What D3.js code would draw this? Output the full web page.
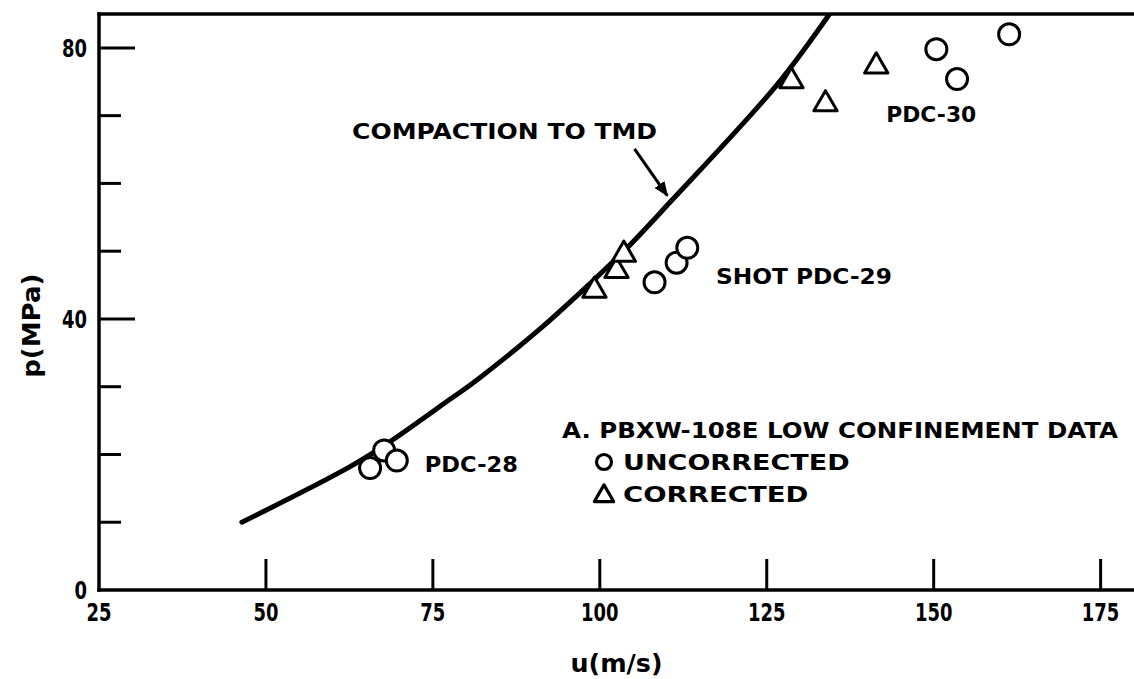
<!DOCTYPE html>
<html>
<head>
<meta charset="utf-8">
<script src="https://cdn.jsdelivr.net/npm/d3@7"></script>
<style>
  html, body { margin: 0; padding: 0; background: #fff; }
  svg { display: block; }
  text { font-family: "DejaVu Sans", "Liberation Sans", Arial, sans-serif; font-weight: bold; fill: #000; }
</style>
</head>
<body>
<div id="chart"></div>
<script>
'use strict';

// Compaction to TMD curve: [u (m/s), p (MPa)]
var curvePoints = [
    [46.4, 10.0], [62.6, 18.2], [68.6, 21.9], [77.5, 28.1], [81.6, 31.0],
    [91.0, 38.5], [98.5, 45.2], [104.0, 50.4], [110.4, 57.1], [126.4, 74.4], [134.4, 85.0]
];

// Uncorrected shots (circles)
var uncorrected = [
    [65.6, 18.0], [67.7, 20.6], [69.6, 19.1],      // PDC-28
    [108.2, 45.4], [111.5, 48.3], [113.1, 50.5],   // PDC-29
    [150.4, 79.8], [153.5, 75.4], [161.3, 82.0]    // PDC-30
];

// Corrected shots (triangles)
var corrected = [
    [99.2, 44.2], [102.5, 47.1], [103.6, 49.5],
    [128.7, 75.1], [133.8, 71.7], [141.4, 77.3]
];

var xTicks = [25, 50, 75, 100, 125, 150, 175];
var yMajorTicks = [0, 40, 80];
var yMinorTicks = [10, 20, 30, 50, 60, 70];

// Text annotations: label, u, p at the start of the baseline, width in px
var labels = [
    { text: "COMPACTION TO TMD", u: 62.9, p: 66.6, w: 305 },
    { text: "SHOT PDC-29", u: 117.4, p: 45.1, w: 176 },
    { text: "PDC-28", u: 73.8, p: 17.4, w: 93 },
    { text: "PDC-30", u: 142.9, p: 69.1, w: 90 }
];
var arrowFrom = [105.2, 65.1];
var arrowTo = [110.1, 58.2];

var legendTitle = "A. PBXW-108E LOW CONFINEMENT DATA";
var legendItems = ["UNCORRECTED", "CORRECTED"];

(function() {
    var width = 1134, height = 679;
    var margin = { left: 99, right: 0, top: 14, bottom: 89 };

    var svg = d3.select("#chart").append("svg")
        .attr("width", width)
        .attr("height", height);

    var x = d3.scaleLinear().domain([25, 180]).range([margin.left, width - margin.right]);
    var y = d3.scaleLinear().domain([0, 85]).range([height - margin.bottom, margin.top]);

    svg.append("defs").append("marker")
        .attr("id", "arrow")
        .attr("viewBox", "0 0 10 10")
        .attr("refX", 9).attr("refY", 5)
        .attr("markerWidth", 5).attr("markerHeight", 5)
        .attr("markerUnits", "strokeWidth")
        .attr("orient", "auto")
      .append("path")
        .attr("d", "M0,1 L10,5 L0,9 Z")
        .attr("fill", "#000");

    svg.append("clipPath").attr("id", "plot")
      .append("rect")
        .attr("x", x(25)).attr("y", y(85))
        .attr("width", x(180) - x(25)).attr("height", y(0) - y(85));

    // axes frame: left, bottom and top lines
    var frame = svg.append("g").attr("stroke", "#000").attr("stroke-width", 3.5).attr("stroke-linecap", "square");
    frame.append("line").attr("x1", x(25)).attr("x2", x(25)).attr("y1", y(0)).attr("y2", y(85));
    frame.append("line").attr("x1", x(25)).attr("x2", x(180)).attr("y1", y(0)).attr("y2", y(0));
    frame.append("line").attr("x1", x(25)).attr("x2", x(180)).attr("y1", y(85)).attr("y2", y(85));

    // x ticks point up into the plot
    svg.append("g").selectAll("line")
        .data(xTicks.filter(function (d) { return d > 25; }))
        .enter().append("line")
        .attr("x1", function (d) { return x(d); }).attr("x2", function (d) { return x(d); })
        .attr("y1", y(0)).attr("y2", y(0) - 31)
        .attr("stroke", "#000").attr("stroke-width", 3);

    svg.append("g").selectAll("text")
        .data(xTicks)
        .enter().append("text")
        .attr("x", function (d) { return x(d); })
        .attr("y", y(0) + 31)
        .attr("text-anchor", "middle")
        .style("font-size", "24px")
        .attr("textLength", function (d) { return String(d).length * 12.5; })
        .attr("lengthAdjust", "spacingAndGlyphs")
        .text(function (d) { return d; });

    // y ticks: long ones carry labels
    svg.append("g").selectAll("line")
        .data(yMajorTicks.filter(function (d) { return d > 0; }))
        .enter().append("line")
        .attr("x1", x(25)).attr("x2", x(25) + 36)
        .attr("y1", function (d) { return y(d); }).attr("y2", function (d) { return y(d); })
        .attr("stroke", "#000").attr("stroke-width", 3);

    svg.append("g").selectAll("line")
        .data(yMinorTicks)
        .enter().append("line")
        .attr("x1", x(25)).attr("x2", x(25) + 22)
        .attr("y1", function (d) { return y(d); }).attr("y2", function (d) { return y(d); })
        .attr("stroke", "#000").attr("stroke-width", 3);

    svg.append("g").selectAll("text")
        .data(yMajorTicks)
        .enter().append("text")
        .attr("x", x(25) - 12)
        .attr("y", function (d) { return y(d) + 9; })
        .attr("text-anchor", "end")
        .style("font-size", "24px")
        .attr("textLength", function (d) { return String(d).length * 12.5; })
        .attr("lengthAdjust", "spacingAndGlyphs")
        .text(function (d) { return d; });

    // axis titles
    svg.append("text")
        .attr("x", x(102.5)).attr("y", 672)
        .attr("text-anchor", "middle")
        .style("font-size", "25px")
        .attr("textLength", 92)
        .attr("lengthAdjust", "spacingAndGlyphs")
        .text("u(m/s)");

    svg.append("text")
        .attr("transform", "translate(40," + y(39) + ") rotate(-90)")
        .attr("text-anchor", "middle")
        .style("font-size", "25px")
        .attr("textLength", 104)
        .attr("lengthAdjust", "spacingAndGlyphs")
        .text("p(MPa)");

    // curve
    var line = d3.line()
        .x(function (d) { return x(d[0]); })
        .y(function (d) { return y(d[1]); })
        .curve(d3.curveCatmullRom);

    svg.append("path")
        .datum(curvePoints)
        .attr("clip-path", "url(#plot)")
        .attr("d", line)
        .attr("fill", "none")
        .attr("stroke", "#000")
        .attr("stroke-width", 5)
        .attr("stroke-linecap", "round");

    // markers
    var circle = d3.symbol().type(d3.symbolCircle).size(Math.PI * 10.5 * 10.5);
    var triangle = d3.symbol().type(d3.symbolTriangle).size(235);

    svg.append("g").selectAll("path")
        .data(uncorrected)
        .enter().append("path")
        .attr("transform", function (d) { return "translate(" + x(d[0]) + "," + y(d[1]) + ")"; })
        .attr("d", circle)
        .attr("fill", "#fff").attr("stroke", "#000").attr("stroke-width", 3);

    svg.append("g").selectAll("path")
        .data(corrected)
        .enter().append("path")
        .attr("transform", function (d) { return "translate(" + x(d[0]) + "," + y(d[1]) + ")"; })
        .attr("d", triangle)
        .attr("fill", "#fff").attr("stroke", "#000").attr("stroke-width", 3)
        .attr("stroke-linejoin", "round");

    // annotations
    svg.append("g").selectAll("text")
        .data(labels)
        .enter().append("text")
        .attr("x", function (d) { return x(d.u); })
        .attr("y", function (d) { return y(d.p); })
        .style("font-size", "21px")
        .attr("textLength", function (d) { return d.w; })
        .attr("lengthAdjust", "spacingAndGlyphs")
        .text(function (d) { return d.text; });

    svg.append("line")
        .attr("x1", x(arrowFrom[0])).attr("y1", y(arrowFrom[1]))
        .attr("x2", x(arrowTo[0])).attr("y2", y(arrowTo[1]))
        .attr("stroke", "#000").attr("stroke-width", 3)
        .attr("marker-end", "url(#arrow)");

    // legend
    var lg = svg.append("g");
    lg.append("text")
        .attr("x", 562).attr("y", 438)
        .style("font-size", "21px")
        .attr("textLength", 556)
        .attr("lengthAdjust", "spacingAndGlyphs")
        .text(legendTitle);

    lg.selectAll("text.item")
        .data(legendItems)
        .enter().append("text")
        .attr("class", "item")
        .attr("x", 623)
        .attr("y", function (d, i) { return 470 + i * 32; })
        .style("font-size", "21px")
        .attr("textLength", function (d) { return d.length * 20.6; })
        .attr("lengthAdjust", "spacingAndGlyphs")
        .text(function (d) { return d; });

    lg.append("path")
        .attr("transform", "translate(604,462)")
        .attr("d", d3.symbol().type(d3.symbolCircle).size(Math.PI * 7.5 * 7.5))
        .attr("fill", "none").attr("stroke", "#000").attr("stroke-width", 3.2);

    lg.append("path")
        .attr("transform", "translate(604,496)")
        .attr("d", d3.symbol().type(d3.symbolTriangle).size(160))
        .attr("fill", "none").attr("stroke", "#000").attr("stroke-width", 3.2)
        .attr("stroke-linejoin", "round");
})();
</script>
</body>
</html>
